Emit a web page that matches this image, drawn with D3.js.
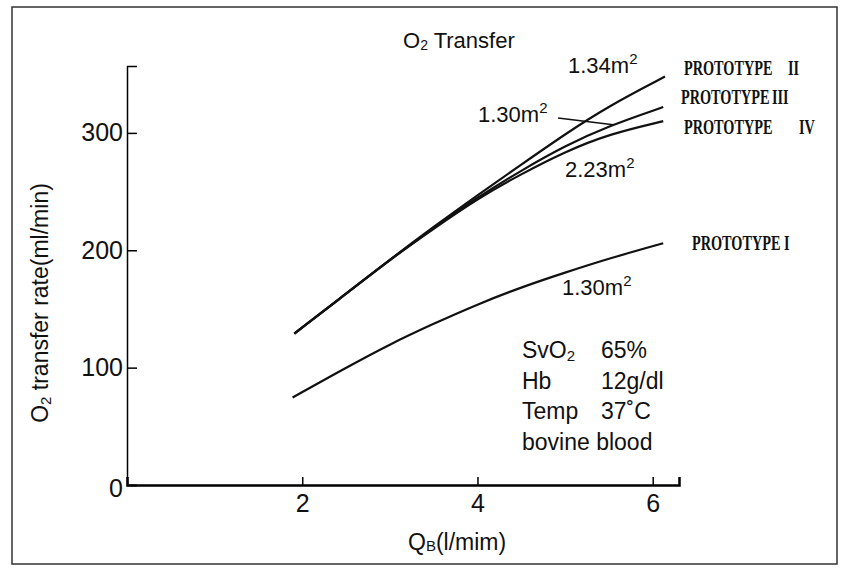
<!DOCTYPE html>
<meta charset="utf-8">
<style>
  body { margin: 0; background: #fff; }
  text { font-family: "Liberation Sans", Arial, sans-serif; fill: #111; }
  .proto { font-family: "Liberation Serif", "DejaVu Serif", serif; font-weight: bold; }
</style>
<svg width="844" height="574"></svg>

<script src="https://d3js.org/d3.v7.min.js"></script>
<script>

// flow (l/min) and O2 transfer rate (ml/min)
var xTicks = [2, 4, 6]
var yTicks = [0, 100, 200, 300]

var protoIQ = [1.89, 2.5, 3.0, 3.5, 4.0, 4.5, 5.0, 5.5, 6.12]
var protoIV = [74.5, 100, 120, 137.5, 154, 168.5, 181, 193, 206]

var protoIIQ = [1.91, 2.5, 3.0, 3.5, 4.0, 4.5, 5.0, 5.5, 6.14]
var protoIIV = [129, 163, 192, 220, 247, 273, 299, 323, 348]

var protoIIIQ = [1.91, 2.5, 3.0, 3.5, 4.0, 4.5, 5.0, 5.5, 6.12]
var protoIIIV = [129, 163, 192, 219, 245, 268, 289, 306, 322]

var protoIVQ = [1.91, 2.5, 3.0, 3.5, 4.0, 4.5, 5.0, 5.5, 6.12]
var protoIVV = [129, 163, 192, 218.5, 244, 265, 284, 299, 310]

var conditions = [["SvO", "2", "65%"], ["Hb", "", "12g/dl"], ["Temp", "", "37\u02daC"], ["bovine blood", "", ""]]

var svg = d3.select('svg')

// scanned frame
svg.append('rect')
  .attr('x', 12).attr('y', 7).attr('width', 825).attr('height', 557)
  .attr('fill', 'none').attr('stroke', '#333').attr('stroke-width', 1.5)

var x = d3.scaleLinear().domain([0, 6.3]).range([127, 679])
var y = d3.scaleLinear().domain([0, 357]).range([485, 66])

// axes
var xAxis = svg.append('g').attr('transform', 'translate(0,' + y(0) + ')')
  .call(d3.axisBottom(x).tickValues(xTicks).tickSize(-8).tickPadding(8).tickFormat(d3.format('d')))
var yAxis = svg.append('g').attr('transform', 'translate(' + x(0) + ',0)')
  .call(d3.axisLeft(y).tickValues(yTicks).tickSize(-10).tickPadding(4).tickFormat(d3.format('d')))

xAxis.select('.domain').attr('stroke-width', 2.5)
yAxis.select('.domain').attr('stroke-width', 1.5)
svg.selectAll('.tick line').attr('stroke-width', 1.5)
svg.selectAll('.tick text').attr('font-size', 25).attr('font-family', '"Liberation Sans", Arial, sans-serif').attr('fill', '#111')
xAxis.selectAll('.tick text').attr('dy', '0.75em')
yAxis.select('.tick text').filter(function (d) { return d === 0 }).attr('dy', '0.45em')

var line = d3.line()
  .x(function (d) { return x(d[0]) })
  .y(function (d) { return y(d[1]) })
  .curve(d3.curveBasis)

function drawCurve(qs, vs) {
  svg.append('path')
    .datum(qs.map(function (q, i) { return [q, vs[i]] }))
    .attr('d', line)
    .attr('fill', 'none')
    .attr('stroke', '#111')
    .attr('stroke-width', 2.2)
}
drawCurve(protoIQ, protoIV)
drawCurve(protoIIQ, protoIIV)
drawCurve(protoIIIQ, protoIIIV)
drawCurve(protoIVQ, protoIVV)

// leader line from the upper 1.30 label to prototype III
svg.append('line')
  .attr('x1', 558).attr('y1', 118).attr('x2', x(5.55)).attr('y2', y(307))
  .attr('stroke', '#111').attr('stroke-width', 1.6)

// title
var title = svg.append('text').attr('x', 403).attr('y', 48).attr('font-size', 22)
title.append('tspan').text('O')
title.append('tspan').text('2').attr('font-size', 14).attr('dy', 2)
title.append('tspan').text(' Transfer').attr('dy', -2)

// area labels
function area(label, px, py) {
  var t = svg.append('text').attr('x', px).attr('y', py).attr('font-size', 22)
  t.append('tspan').text(label + 'm')
  t.append('tspan').text('2').attr('font-size', 15).attr('dy', -9)
}
area('1.34', 568, 73)
area('1.30', 478, 122)
area('2.23', 565, 177)
area('1.30', 562, 295)

// prototype names: condensed bold serif, one text each
var sx = 0.68
function proto(num, px, numX, py) {
  var t = svg.append('text').attr('class', 'proto')
    .attr('transform', 'translate(' + px + ',' + py + ') scale(' + sx + ',1)')
    .attr('font-size', 21)
  t.append('tspan').attr('x', 0).text('PROTOTYPE')
  t.append('tspan').attr('x', (numX - px) / sx).text(num)
}
proto('II', 684, 788, 75)
proto('III', 681, 772, 104)
proto('IV', 684, 799, 134)
proto('I', 692, 784, 250)

// conditions block
conditions.forEach(function (c, i) {
  var t = svg.append('text').attr('x', 522).attr('y', 358 + i * 30.5).attr('font-size', 23)
  t.append('tspan').text(c[0])
  if (c[1]) t.append('tspan').text(c[1]).attr('font-size', 15).attr('dy', 3)
  if (c[2]) t.append('tspan').text(c[2]).attr('x', 601).attr('dy', c[1] ? -3 : 0)
})

// axis titles
var xt = svg.append('text').attr('x', 408).attr('y', 550).attr('font-size', 23)
xt.append('tspan').text('Q')
xt.append('tspan').text('B').attr('font-size', 15).attr('dy', 1)
xt.append('tspan').text('(l/mim)').attr('dy', -1)

var yt = svg.append('text')
  .attr('transform', 'translate(48,303) rotate(-90)')
  .attr('text-anchor', 'middle')
  .attr('font-size', 23)
yt.append('tspan').text('O')
yt.append('tspan').text('2').attr('font-size', 15).attr('dy', 3)
yt.append('tspan').text(' transfer rate(ml/min)').attr('dy', -3)

</script>
